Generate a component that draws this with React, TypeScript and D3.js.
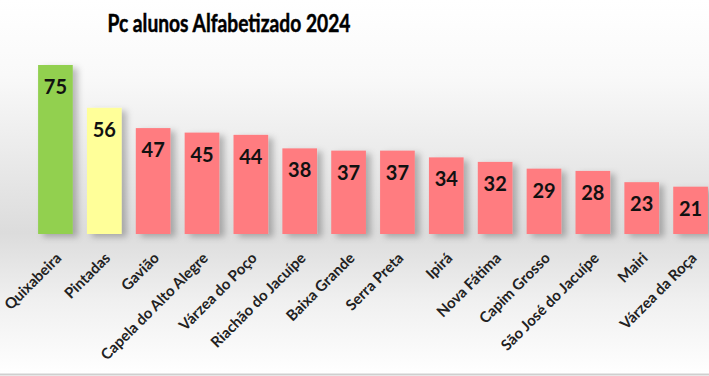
import React from "react";
import * as d3 from "d3";

const categories = [
  "Quixabeira", "Pintadas", "Gavião", "Capela do Alto Alegre", "Várzea do Poço",
  "Riachão do Jacuípe", "Baixa Grande", "Serra Preta", "Ipirá", "Nova Fátima",
  "Capim Grosso", "São José do Jacuípe", "Mairi", "Várzea da Roça",
];
const values = [75, 56, 47, 45, 44, 38, 37, 37, 34, 32, 29, 28, 23, 21];
const barColors = ["#92d050", "#ffff99", "#ff7c80", "#ff7c80", "#ff7c80", "#ff7c80", "#ff7c80",
  "#ff7c80", "#ff7c80", "#ff7c80", "#ff7c80", "#ff7c80", "#ff7c80", "#ff7c80"];
const title = "Pc alunos Alfabetizado 2024";

const W = 709, H = 376;
const baseline = 234;

export default function App() {
  const x = d3.scaleBand<string>().domain(categories).range([31, 715]).paddingInner(0.29).paddingOuter(0.145);
  const y = d3.scaleLinear().domain([0, 75]).range([baseline, 65]);
  const font = "Lato, 'Open Sans', sans-serif";
  return (
    <svg width={W} height={H} style={{ position: "absolute", left: 0, top: 0 }}>
      <defs>
        <linearGradient id="bg" x1="0" y1="0" x2="0" y2="1">
          <stop offset="0" stopColor="#ffffff" />
          <stop offset="0.2" stopColor="#f9f9f9" />
          <stop offset="0.62" stopColor="#dcdcdc" />
          <stop offset="0.8" stopColor="#f0f0f0" />
          <stop offset="1" stopColor="#ffffff" />
        </linearGradient>
        <filter id="sh" x="-30%" y="-10%" width="180%" height="130%">
          <feDropShadow dx="5" dy="3" stdDeviation="3" floodColor="#000" floodOpacity="0.25" />
        </filter>
      </defs>
      <rect x={0} y={0} width={W} height={H} fill="url(#bg)" />
      <line x1={0} x2={W} y1={374.5} y2={374.5} stroke="#cfcfcf" strokeWidth={2} />
      <text x={229} y={32} textAnchor="middle" fontFamily={font} fontWeight="bold" fontSize={25}
        textLength={243} lengthAdjust="spacingAndGlyphs" fill="#000" stroke="#000" strokeWidth={0.5}>{title}</text>
      {categories.map((c, i) => (
        <g key={c}>
          <rect x={x(c)} y={y(values[i])} width={x.bandwidth()} height={baseline - y(values[i])}
            fill={barColors[i]} filter="url(#sh)" />
          <text x={x(c)! + x.bandwidth() / 2} y={y(values[i]) + 29} textAnchor="middle"
            fontFamily={font} fontWeight="bold" fontSize={20} fill="#111">{values[i]}</text>
          <text transform={`translate(${x(c)! + x.bandwidth() / 2 + 7},${baseline + 25}) rotate(-45)`}
            textAnchor="end" fontFamily={font} fontWeight="bold" fontSize={15} fill="#222">{c}</text>
        </g>
      ))}
    </svg>
  );
}
